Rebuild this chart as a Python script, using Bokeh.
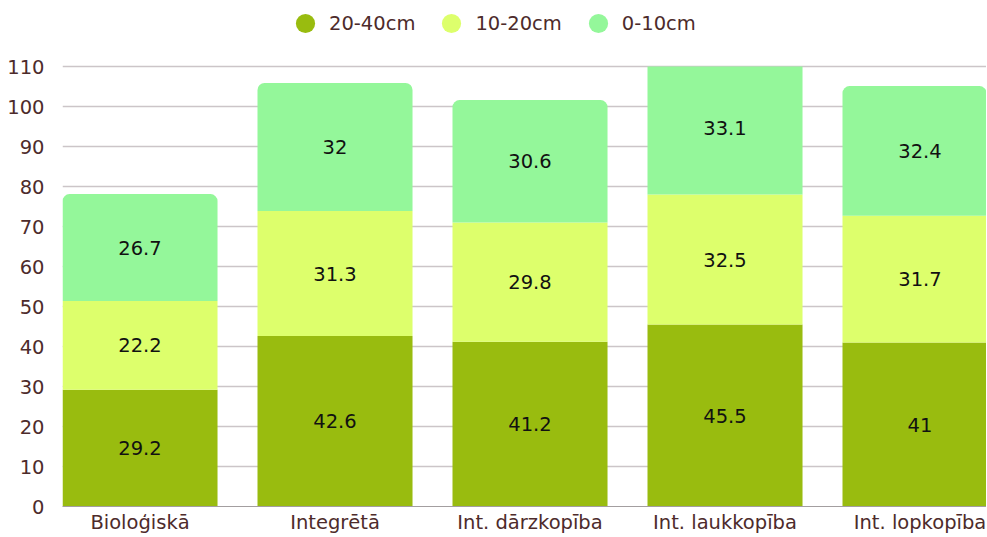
from bokeh.plotting import figure
from bokeh.models import ColumnDataSource, FixedTicker, Legend, LegendItem, Range1d
from bokeh.core.properties import value
from bokeh.embed import file_html
from bokeh.resources import INLINE

categories = ["Bioloģiskā", "Integrētā", "Int. dārzkopība", "Int. laukkopība", "Int. lopkopība"]
series_names = ["20-40cm", "10-20cm", "0-10cm"]
deep = [29.2, 42.6, 41.2, 45.5, 41]
mid = [22.2, 31.3, 29.8, 32.5, 31.7]
top = [26.7, 32, 30.6, 33.1, 32.4]
colors = ["#99bc0f", "#ddff6c", "#94f79a"]
y_ticks = list(range(0, 111, 10))

FONT = "DejaVu Sans"
TXT = "#4d2b2b"
FS = "19.5px"

W, H = 986, 536
LB, BB = 62, 30
frame_h = H - BB
px_per_unit_y = 4.0
y_max = y_ticks[-1]

xs = list(range(len(categories)))
bar_w = 0.795
px_per_unit = 195.0
frame_w = W - LB
x_start = -bar_w / 2
x_end = x_start + frame_w / px_per_unit

p = figure(width=W, height=H, output_backend="svg", toolbar_location=None,
           x_range=Range1d(x_start, x_end), y_range=Range1d(0, frame_h / px_per_unit_y),
           min_border_left=LB, min_border_right=0, min_border_top=0, min_border_bottom=BB)
p.outline_line_color = None
p.xgrid.visible = False
p.ygrid.grid_line_color = "#ccc5c8"
p.ygrid.grid_line_width = 1.5
p.ygrid.ticker = FixedTicker(ticks=y_ticks)

series = [deep, mid, top]
bottoms = [0.0] * len(xs)
for i, (vals, c) in enumerate(zip(series, colors)):
    tops = [b + v for b, v in zip(bottoms, vals)]
    ymid = [(b + t) / 2 for b, t in zip(bottoms, tops)]
    shown = [min(t, y_max) for t in tops]  # chart area ends at the last tick
    last = i == len(series) - 1
    groups = [[k for k in xs if tops[k] <= y_max], [k for k in xs if tops[k] > y_max]]
    for g, idx in enumerate(groups):
        if not idx:
            continue
        src = ColumnDataSource(dict(x=[xs[k] for k in idx], bottom=[bottoms[k] for k in idx],
                                    top=[shown[k] for k in idx]))
        kw = {}
        if last and g == 0:
            kw["border_radius"] = (7, 7, 0, 0)
        p.vbar(x="x", bottom="bottom", top="top", width=bar_w, source=src,
               fill_color=c, line_color=None, **kw)
    lsrc = ColumnDataSource(dict(x=xs, y=ymid, lbl=[f"{v:g}" for v in vals]))
    p.text(x="x", y="y", text="lbl", source=lsrc, text_align="center",
           text_baseline="middle", text_font=value(FONT), text_font_size=FS,
           text_color="#111111")
    bottoms = tops

# axes
for ax in (p.xaxis[0], p.yaxis[0]):
    ax.major_tick_line_color = None
    ax.minor_tick_line_color = None
    ax.major_tick_out = 0
    ax.major_tick_in = 0
    ax.minor_tick_out = 0
    ax.minor_tick_in = 0
    ax.major_label_text_font = FONT
    ax.major_label_text_font_size = FS
    ax.major_label_text_color = TXT

p.xaxis.ticker = FixedTicker(ticks=xs)
p.xaxis.major_label_overrides = {i: c for i, c in enumerate(categories)}
p.xaxis.axis_line_color = "#a39ea0"
p.xaxis.major_label_standoff = 4

p.yaxis.ticker = FixedTicker(ticks=y_ticks)
p.yaxis.axis_line_color = None
p.yaxis.major_label_standoff = 18

# legend (hidden one-point renderers supply the circle swatches)
items = []
for name, c in zip(series_names, colors):
    r = p.scatter(x=[xs[0]], y=[0], marker="circle", size=19, fill_color=c, line_color=None)
    r.visible = False
    items.append(LegendItem(label=name, renderers=[r]))
legend = Legend(items=items, orientation="horizontal", location=(219, 459),
                glyph_width=48, glyph_height=48, label_standoff=0, spacing=12,
                padding=0, margin=0, border_line_color=None, background_fill_alpha=0,
                inactive_fill_alpha=0, click_policy="none",
                label_text_font=FONT, label_text_font_size=FS, label_text_color=TXT)
p.add_layout(legend, "center")

open("out.html", "w").write(file_html(p, INLINE))
